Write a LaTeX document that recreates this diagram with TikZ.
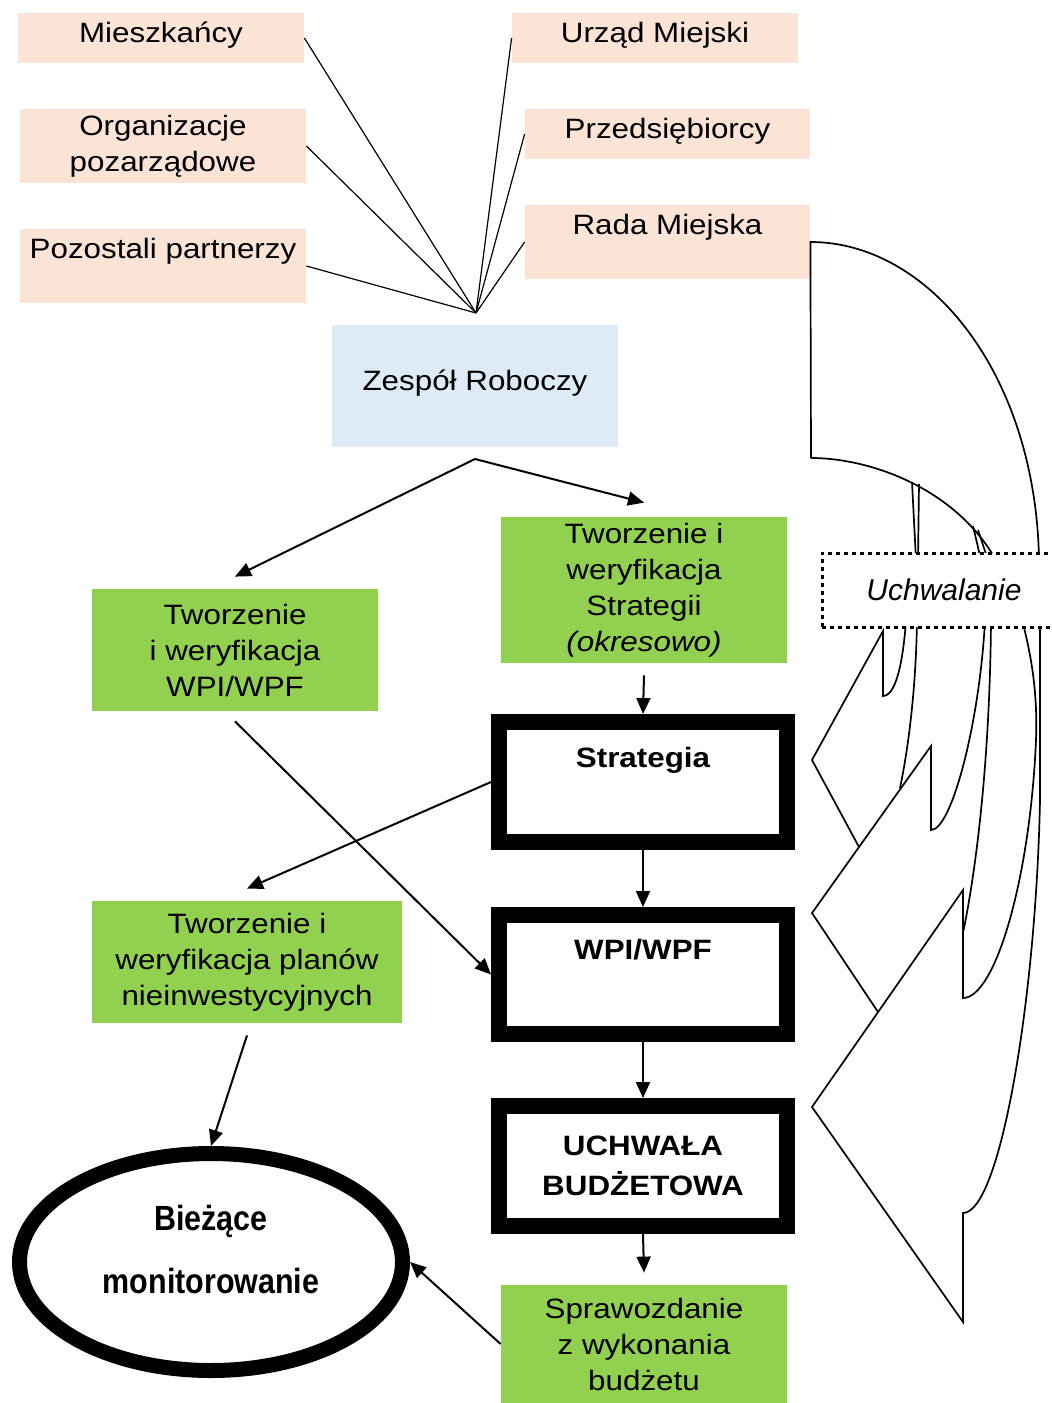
\documentclass[tikz,border=0pt]{standalone}
\usepackage{fontspec}
\setmainfont{Liberation Sans}[FakeStretch=1.12]
\newfontfamily\ellfont{Liberation Sans}[FakeStretch=0.87]
\newfontfamily\uchfont{Liberation Sans}
\usetikzlibrary{arrows.meta}
\usetikzlibrary{shapes.geometric}
\definecolor{peach}{HTML}{FBE4D5}
\definecolor{paleblue}{HTML}{DEEAF6}
\definecolor{leafgreen}{HTML}{92D050}

\begin{document}
\begin{tikzpicture}[
      x=0.5pt, y=-0.5pt,
      every node/.style={font=\fontsize{14}{18}\selectfont, align=center, inner sep=0pt},
      oneline/.style={text height=10pt, text depth=6pt},
      partner/.style={fill=peach, minimum width=143pt},
      task/.style={fill=leafgreen, minimum width=143pt},
      doc/.style={draw, line width=8pt, minimum width=144pt, minimum height=60pt,
                  font=\fontsize{14}{20}\selectfont\bfseries},
      fan/.style={line width=0.6pt},
      trans/.style={line width=1pt,-{Triangle[length=8pt,width=7pt]}},
      arc/.style={line width=0.85pt, line join=miter},
    ]
    \useasboundingbox (0,0) rectangle (1052,1403);
    \clip (0,0) rectangle (1052,1403);
    % Partners.
    \node[partner, oneline, minimum height=25pt] (mieszk) at (161,38) {Mieszkańcy};
    \node[partner, minimum height=37pt] (org) at (163,146) {Organizacje\\pozarządowe};
    \node[partner, minimum height=37pt] (pozost) at (163,266) {Pozostali partnerzy\\~};
    \node[partner, oneline, minimum height=25pt] (urzad) at (655,38) {Urząd Miejski};
    \node[partner, oneline, minimum width=142.5pt, minimum height=25pt] (przeds) at (667.5,134) {Przedsiębiorcy};
    \node[partner, minimum width=142.5pt, minimum height=37pt] (rada) at (667.5,242) {Rada Miejska\\~};
    \node[fill=paleblue, oneline, minimum width=143pt, minimum height=61pt] (zespol) at (475,386) {Zespół Roboczy};

    % Tasks and documents.
    \node[task, minimum height=73pt] (strat_tw) at (644,590)
        {Tworzenie i\\weryfikacja\\Strategii\\\textit{(okresowo)}};
    \node[task, minimum height=61pt] (wpi_tw) at (235,650) {Tworzenie\\i weryfikacja\\WPI/WPF};
    \node[task, minimum width=155pt, minimum height=61pt] (plan_tw) at (247,962)
        {Tworzenie i\\weryfikacja planów\\nieinwestycyjnych};
    \node[task, minimum height=59pt] (spraw) at (644,1344) {Sprawozdanie\\z wykonania\\budżetu};
    \node[doc] (strategia) at (643,782) {Strategia\\[5pt]~};
    \node[doc, minimum height=59.5pt] (wpi) at (643,974.5) {WPI/WPF\\[5pt]~};
    \node[doc] (uchwala) at (643,1166) {UCHWAŁA\\BUDŻETOWA};
    \node[ellipse, draw, line width=7.5pt, minimum width=191.5pt, minimum height=108.5pt,
          font=\ellfont\fontsize{17.5}{31.5}\selectfont\bfseries] (monit) at (211,1262)
        {Bieżące\\monitorowanie\rule[-13pt]{0pt}{0pt}};

    % Draw the fan of partners.
    \coordinate (hub) at (476,313);
    \foreach \src/\anc in {mieszk/east, org/east, pozost/east, urzad/west, przeds/west, rada/west}
      \draw[fan] (\src.\anc) -- (hub);

    % Draw the flow.
    \coordinate (split) at (475,459);
    \draw[trans] (split) -- ([yshift=6pt]wpi_tw.north);
    \draw[trans] (split) -- ([yshift=7pt]strat_tw.north);
    \draw[trans] ([yshift=-6pt]strat_tw.south) -- (strategia.north);
    \draw[trans] (strategia.south) -- (wpi.north);
    \draw[trans] (wpi.south) -- (uchwala.north);
    \draw[trans] (uchwala.south) -- ([yshift=6pt]spraw.north);
    \draw[trans] (strategia.west) -- ([yshift=6pt]plan_tw.north);
    \draw[trans] ([yshift=-5pt]wpi_tw.south) -- (wpi.west);
    \draw[trans] ([yshift=-6pt]plan_tw.south) -- (monit.north);
    \draw[trans] (spraw.west) -- (monit.east);

    % Draw the curved arrows on the right.
    \draw[arc] (811,458) -- (rada.east) .. controls (930,242) and (1036,375) .. (1039,560);
    \draw[arc] (811,458) .. controls (870,458) and (955,488) .. (996,560);
    \draw[arc] (912,482) -- (916,560);
    \draw[arc] (919,484) -- (918,560);
    \draw[arc] (973,526) -- (981,560);
    \draw[arc] (978,530) -- (988,560);
    \draw[arc] (906,620) .. controls (904,650) and (898,696) .. (883,696) -- (883,631)
        -- (812,760) -- (859,847);
    \draw[arc] (917,620) .. controls (916,690) and (908,750) .. (900,788);
    \draw[arc] (985,620) .. controls (980,720) and (952,830) .. (931,830) -- (931,746)
        -- (812,913) -- (878,1012);
    \draw[arc] (991,620) .. controls (990,750) and (978,860) .. (963,933);
    \draw[arc] (1022,620) .. controls (1030,650) and (1038,690) .. (1036,740)
        .. controls (1030,880) and (995,998) .. (963,998) -- (963,890) -- (812,1107)
        -- (963,1322) -- (963,1213) .. controls (1000,1213) and (1036,1000) .. (1040,800)
        -- (1040,620);

    \node[draw, fill=white, line width=1.5pt, dash pattern=on 2pt off 2pt,
          minimum width=122pt, minimum height=37pt,
          font=\uchfont\fontsize{15}{18}\selectfont\itshape] (uchwal) at (944,590) {Uchwalanie};
\end{tikzpicture}
\end{document}
